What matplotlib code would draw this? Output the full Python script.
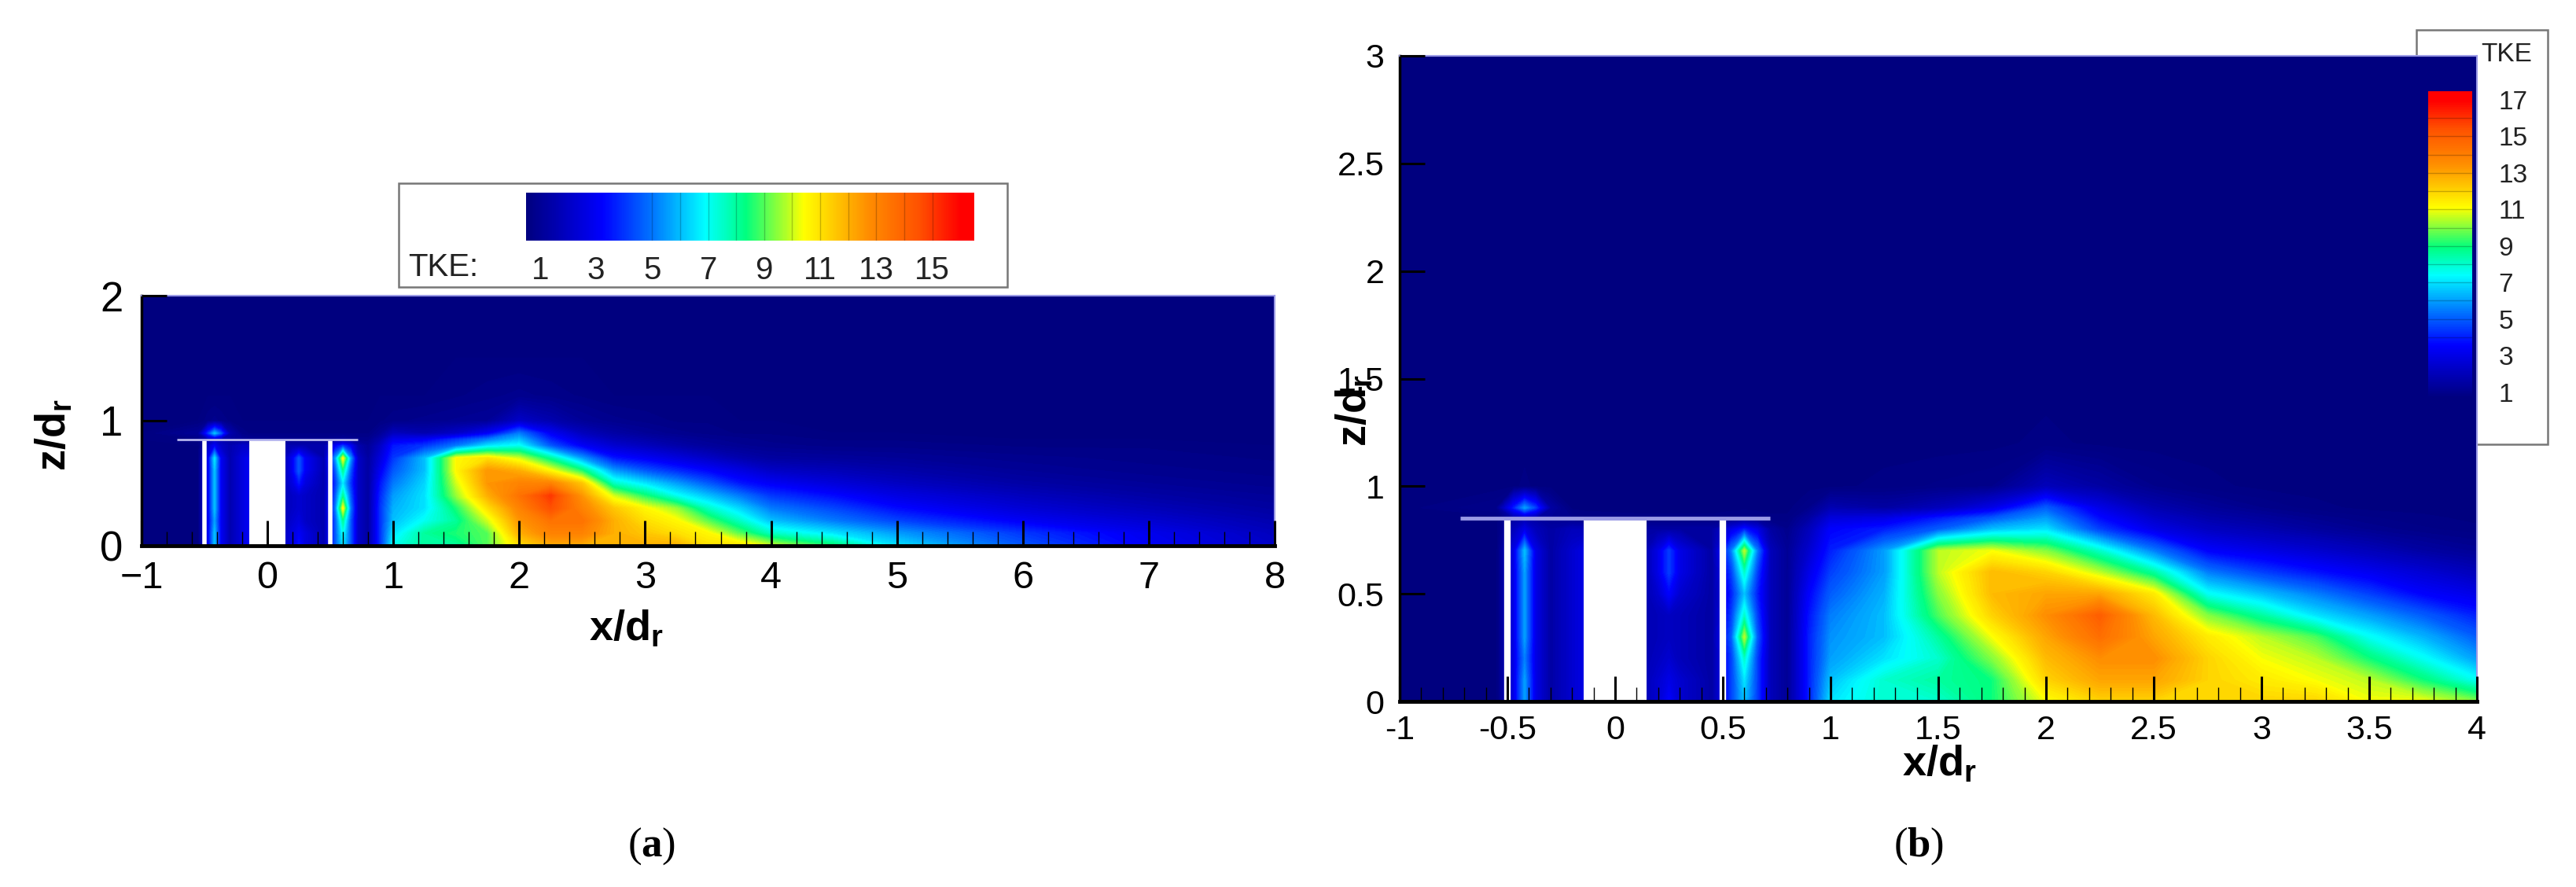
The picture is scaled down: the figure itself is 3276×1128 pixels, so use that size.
import numpy as np
import matplotlib
matplotlib.use('Agg')
import matplotlib.pyplot as plt
from matplotlib.cm import ScalarMappable
from matplotlib.colors import LinearSegmentedColormap, Normalize
from matplotlib.patches import Rectangle

plt.rcParams['font.family'] = ['Liberation Sans', 'DejaVu Sans']
plt.rcParams['mathtext.fontset'] = 'custom'
plt.rcParams['mathtext.bf'] = 'Liberation Sans:bold'
plt.rcParams['mathtext.rm'] = 'Liberation Sans:bold'
plt.rcParams['mathtext.cal'] = 'Liberation Serif:bold'

W, H = 3276, 1128

# TKE, one list per z/dr level, one value per x_pos column
x_pos = [-1, -0.55, -0.47, -0.42, -0.37, -0.3, -0.2, -0.14, 0.14, 0.2, 0.25, 0.3, 0.45,
         0.54, 0.6, 0.66, 0.72, 0.8, 0.9, 1, 1.25, 1.5, 1.75, 2, 2.25, 2.5, 2.75, 3,
         3.25, 3.5, 3.75, 4, 4.5, 5, 6, 7, 8]
z_pos = [0, 0.1, 0.2, 0.3, 0.4, 0.5, 0.6, 0.7, 0.8, 0.85, 0.9, 1, 1.2, 1.5, 2, 3]

tke_z00 = [.4, .5, 3, 6, 3, 1.5, 2.5, 3, 2, 2.5, 3.5, 2.5, 1.5, 4.5, 6.5, 4.5, 2, 1.2, 4, 7, 8, 8, 9, 11, 12, 12, 12, 12, 12, 11, 11, 10, 8.5, 6.5, 4.5, 3, 2]
tke_z01 = [.4, .5, 3, 6, 3, 1.5, 2.5, 3, 2, 2.5, 3, 2.5, 1.5, 4.5, 7, 4.5, 2, 1.2, 4, 6.5, 8, 8.5, 9, 12, 13, 13, 12, 11.5, 11, 10.5, 9, 7.5, 6.5, 5.5, 4, 2.8, 1.8]
tke_z02 = [.4, .5, 3, 5.5, 3, 1.5, 2.5, 3, 1.8, 2.2, 2.5, 2, 1.5, 4.5, 8, 4.5, 2, 1.2, 4, 6, 7, 8, 10, 12.5, 13.5, 13.5, 12, 11, 10.5, 9, 7.5, 6, 5, 4.2, 3, 2.2, 1.5]
tke_z03 = [.4, .5, 3, 6, 3, 1.5, 2.5, 3, 1.8, 2, 2.2, 2, 1.5, 5, 10.5, 5, 2, 1.2, 4, 5.8, 6.5, 8.5, 11, 13, 14.5, 13, 11.5, 10.5, 9.5, 7.5, 6.3, 5, 4.2, 3.3, 2.3, 1.7, 1.2]
tke_z04 = [.4, .5, 3, 6, 3, 1.5, 2.5, 3, 1.8, 2, 2.2, 2, 1.5, 4.5, 8, 4.5, 2, 1.2, 3.8, 5.5, 6.5, 9.5, 12, 13.5, 15, 12.5, 10, 8.5, 7, 6, 5, 4, 3.3, 2.6, 1.8, 1.3, 1]
tke_z05 = [.4, .5, 3, 6, 3, 1.5, 2.5, 3, 1.8, 2.5, 3.5, 2.5, 1.5, 4, 6.5, 4, 2, 1.2, 3.5, 5, 6.3, 10, 12.5, 13, 13, 11.5, 7.5, 6.5, 5.5, 4.5, 3.5, 3, 2.4, 1.9, 1.3, 1, .8]
tke_z06 = [.4, .5, 3, 6, 3, 1.5, 2.5, 3, 1.8, 3, 4.5, 3, 1.5, 4.5, 8, 4.5, 2, 1.2, 3, 4.5, 6, 10.5, 12.5, 12, 10.5, 8.5, 5.5, 4.5, 3.8, 3.2, 2.6, 2, 1.7, 1.4, 1, .8, .7]
tke_z07 = [.4, .5, 3, 6.5, 3, 1.5, 2.5, 3, 1.8, 3, 4.5, 3, 1.5, 5.5, 10.5, 5.5, 2, 1.2, 2.5, 4, 6, 10.5, 11, 10, 8, 5.5, 3.5, 3, 2.5, 2, 1.5, 1.2, 1.1, 1, .8, .7, .6]
tke_z08 = [.4, .5, 2, 3, 2, 1.5, 2, 2, 1.5, 1.5, 1.5, 1.5, 1.5, 3, 4, 3, 1.5, 1, 2, 3.5, 4, 5, 6.5, 7, 4.5, 3, 2.2, 1.8, 1.4, 1.1, .9, .8, .7, .7, .6, .6, .5]
tke_z085 = [.4, .6, 1.5, 1.8, 1.5, 1.2, 1, .9, .8, .8, .8, .8, .8, .9, 1, .9, .8, .8, 1.5, 2.8, 3, 4, 5, 6, 3.7, 2.4, 1.7, 1.4, 1.1, .9, .8, .7, .6, .6, .5, .5, .5]
tke_z09 = [.4, 1, 4, 6, 4.5, 1.5, .7, .6, .6, .6, .6, .6, .6, .6, .6, .6, .6, .6, 1, 1.8, 1.5, 2, 3, 5, 3, 1.8, 1.3, 1, .8, .7, .6, .6, .5, .5, .5, .5, .5]
tke_z10 = [.4, .5, .7, .8, .7, .6, .5, .5, .5, .5, .5, .5, .5, .5, .5, .5, .5, .5, .6, .7, .8, .9, 1, 2, 1.5, 1, .8, .7, .6, .6, .5, .5, .5, .5, .5, .5, .5]
tke_z12 = [.4, .45, .45, .45, .45, .45, .45, .45, .45, .45, .45, .45, .45, .45, .45, .45, .45, .45, .45, .5, .5, .6, .7, .8, .7, .6, .5, .5, .5, .5, .45, .45, .45, .45, .45, .45, .45]
tke_z15 = [.4] * 37
tke_z20 = [.4] * 37
tke_z30 = [.4] * 37

tke_rows = [tke_z00, tke_z01, tke_z02, tke_z03, tke_z04, tke_z05, tke_z06, tke_z07, tke_z08,
            tke_z085, tke_z09, tke_z10, tke_z12, tke_z15, tke_z20, tke_z30]

xticks_a = [-1, 0, 1, 2, 3, 4, 5, 6, 7, 8]
yticks_a = [0, 1, 2]
xticks_b = [-1, -0.5, 0, 0.5, 1, 1.5, 2, 2.5, 3, 3.5, 4]
yticks_b = [0, 0.5, 1, 1.5, 2, 2.5, 3]
ticklabels_b_x = ['-1', '-0.5', '0', '0.5', '1', '1.5', '2', '2.5', '3', '3.5', '4']
ticklabels_b_y = ['0', '0.5', '1', '1.5', '2', '2.5', '3']
bar_ticks_a = [1, 3, 5, 7, 9, 11, 13, 15]
bar_ticks_b = [1, 3, 5, 7, 9, 11, 13, 15, 17]
band_lines_a = list(range(5, 16))
band_lines_b = list(range(4, 17))

tke_cmap = LinearSegmentedColormap.from_list('tke', [
    (0.0, '#00007f'), (0.17, '#0000ff'), (0.29, '#0080ff'), (0.40, '#00ffff'),
    (0.49, '#00ff80'), (0.62, '#ffff00'), (0.76, '#ff9000'), (0.88, '#ff5000'),
    (0.97, '#ff0000'), (1.0, '#ff0000')])


def px_axes(x0, y0, x1, y1, **kw):
    # pixel box, y measured from the top of the image
    return fig.add_axes([x0 / W, 1 - y1 / H, (x1 - x0) / W, (y1 - y0) / H], **kw)


def px_text(x, y, s, **kw):
    return fig.text(x / W, 1 - y / H, s, **kw)


def draw_field(ax, norm, xlim, ylim, line_w, white_w, hub_color):
    tke = np.array(tke_rows)
    levels = np.linspace(0, 20, 161)
    ax.contourf(x_pos, z_pos, np.clip(tke, norm.vmin, norm.vmax), levels=levels, cmap=tke_cmap, norm=norm, zorder=1)
    ax.add_patch(Rectangle((-0.145, 0), 0.29, 0.85, color='white', lw=0, zorder=2))
    ax.plot([-0.5, -0.5], [0, 0.85], color='white', lw=white_w, solid_capstyle='butt', zorder=2)
    ax.plot([0.5, 0.5], [0, 0.85], color='white', lw=white_w, solid_capstyle='butt', zorder=2)
    ax.plot([-0.72, 0.72], [0.85, 0.85], color=hub_color, lw=line_w, solid_capstyle='butt', zorder=2)
    ax.set_xlim(xlim)
    ax.set_ylim(ylim)
    ax.set_axisbelow(False)
    ax.spines['left'].set_linewidth(2.5)
    ax.spines['bottom'].set_linewidth(3.5)
    ax.spines['top'].set_color('#9a9ae6')
    ax.spines['right'].set_color('#9a9ae6')
    ax.spines['top'].set_linewidth(1.5)
    ax.spines['right'].set_linewidth(1.5)


def draw_bar(cax, norm, orientation, ticks, bands, pad, size):
    cb = fig.colorbar(ScalarMappable(norm=norm, cmap=tke_cmap), cax=cax, orientation=orientation)
    cb.outline.set_visible(False)
    cb.set_ticks(ticks)
    cb.set_ticklabels([str(t) for t in ticks])
    cb.ax.tick_params(length=0, pad=pad, labelsize=size, labelcolor='#222222')
    for b in bands:
        if orientation == 'horizontal':
            cb.ax.axvline(b, color='black', alpha=0.22, lw=1.0)
        else:
            cb.ax.axhline(b, color='black', alpha=0.22, lw=1.0)


fig = plt.figure(figsize=(W / 100, H / 100), dpi=100, facecolor='white')

# panel (a)
norm_a = Normalize(0.5, 16.5)
ax_a = px_axes(180, 376, 1621, 694)
draw_field(ax_a, norm_a, (-1, 8), (0, 2), 2.0, 4.0, '#b4b4ee')
ax_a.set_xticks(xticks_a)
ax_a.set_yticks(yticks_a)
ax_a.set_xticks(np.arange(-1, 8.01, 0.2), minor=True)
ax_a.tick_params(axis='both', which='major', direction='in', length=23, width=2.2, pad=14, labelsize=35)
ax_a.tick_params(axis='both', which='minor', direction='in', length=13, width=1.0)
ax_a.tick_params(axis='y', pad=17, labelsize=38)

fig.add_artist(Rectangle((507 / W, 1 - 365 / H), 774 / W, 132 / H, transform=fig.transFigure,
                         facecolor='white', edgecolor='#777777', lw=1.8))
cax_a = px_axes(669, 245, 1239, 306, zorder=5)
draw_bar(cax_a, norm_a, 'horizontal', bar_ticks_a, band_lines_a, 14, 29)
px_text(519, 340, 'TKE:', ha='left', va='center', fontsize=29, color='#222222', zorder=6)

# panel (b)
norm_b = Normalize(0.68, 17.47)
fig.add_artist(Rectangle((3073 / W, 1 - 565 / H), 167 / W, 527 / H, transform=fig.transFigure,
                         facecolor='white', edgecolor='#777777', lw=1.8, zorder=-1))
ax_b = px_axes(1780, 71, 3150, 892)
draw_field(ax_b, norm_b, (-1, 4), (0, 3), 3.5, 6.0, '#9a9ae6')
ax_b.set_xticks(xticks_b)
ax_b.set_xticklabels(ticklabels_b_x)
ax_b.set_yticks(yticks_b)
ax_b.set_yticklabels(ticklabels_b_y)
ax_b.set_xticks(np.arange(-1, 4.01, 0.1), minor=True)
ax_b.tick_params(axis='both', which='major', direction='in', length=23, width=2.2, pad=12, labelsize=31)
ax_b.tick_params(axis='both', which='minor', direction='in', length=13, width=1.0)
ax_b.tick_params(axis='y', pad=14)

cax_b = px_axes(3088, 116, 3144, 506, zorder=5)
draw_bar(cax_b, norm_b, 'vertical', bar_ticks_b, band_lines_b, 24, 24)
px_text(3155, 69, 'TKE', ha='left', va='center', fontsize=24, color='#222222', zorder=6)

# axis labels drawn at fixed spots like the exported figure
px_text(796, 800, r'$\mathbf{x/d_r}$', ha='center', va='center', fontsize=39)
px_text(69, 553, r'$\mathbf{z/d_r}$', ha='center', va='center', rotation=90, fontsize=39)
px_text(2466, 972, r'$\mathbf{x/d_r}$', ha='center', va='center', fontsize=39)
px_text(1723, 522, r'$\mathbf{z/d_r}$', ha='center', va='center', rotation=90, fontsize=39)

px_text(829, 1076, r'($\mathcal{a}$)', ha='center', va='center', fontsize=38, family='Liberation Serif')
px_text(2440, 1076, r'($\mathcal{b}$)', ha='center', va='center', fontsize=38, family='Liberation Serif')

fig.savefig('out.png', dpi=100)
